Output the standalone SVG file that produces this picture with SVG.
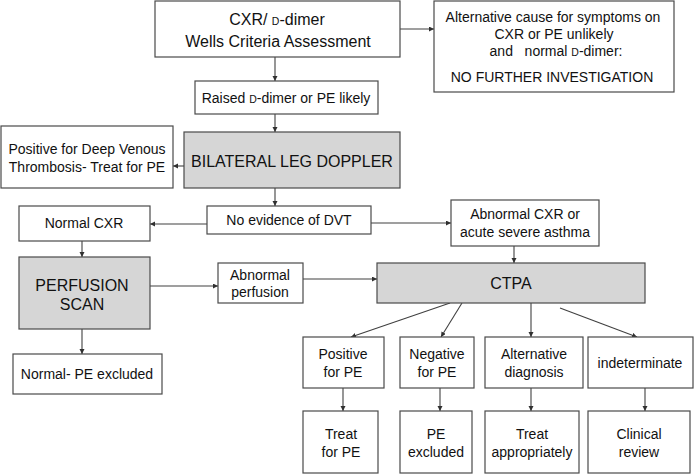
<svg xmlns="http://www.w3.org/2000/svg" width="697" height="475" viewBox="0 0 697 475">
<defs>
<style>
.box{fill:#fff;stroke:#4a4a4a;stroke-width:1.2}
.gray{fill:#d6d6d6;stroke:#4a4a4a;stroke-width:1.2}
text{font-family:"Liberation Sans",Arial,sans-serif;font-size:14px;fill:#111;text-anchor:middle}
.big{font-size:16px}
.sc{font-size:10.5px}
.conn line{stroke:#404040;stroke-width:1.1;marker-end:url(#ah)}
</style>
<marker id="ah" markerUnits="userSpaceOnUse" markerWidth="6" markerHeight="6" refX="5" refY="2.5" orient="auto">
<path d="M0,0 L5,2.5 L0,5 z" fill="#303030"/>
</marker>
</defs>
<rect width="697" height="475" fill="#fff"/>
<g class="conn">
<line x1="275" y1="57" x2="275" y2="81"/>
<line x1="275" y1="114" x2="275" y2="132"/>
<line x1="400" y1="29" x2="434" y2="29"/>
<line x1="184" y1="166" x2="173" y2="166"/>
<line x1="275" y1="188" x2="275" y2="206"/>
<line x1="207" y1="224" x2="150" y2="224"/>
<line x1="371" y1="223" x2="451" y2="223"/>
<line x1="82" y1="241" x2="82" y2="257"/>
<line x1="150" y1="286" x2="218" y2="286"/>
<line x1="303" y1="279" x2="377" y2="279"/>
<line x1="514" y1="246" x2="514" y2="263"/>
<line x1="82" y1="329" x2="82" y2="354"/>
<line x1="450" y1="303" x2="351" y2="337"/>
<line x1="462" y1="303" x2="441" y2="337"/>
<line x1="531" y1="303" x2="531" y2="337"/>
<line x1="560" y1="308" x2="637" y2="337"/>
<line x1="343" y1="388" x2="343" y2="411"/>
<line x1="440" y1="388" x2="440" y2="411"/>
<line x1="531" y1="388" x2="531" y2="411"/>
<line x1="645" y1="388" x2="645" y2="411"/>
</g>
<g id="n-start">
<rect class="box" x="155" y="1" width="245" height="56"/>
<text class="big" x="277" y="25">CXR/ <tspan class="sc" font-size="12px">D</tspan>-dimer</text>
<text class="big" x="278" y="47">Wells Criteria Assessment</text>
</g>
<g id="n-nofurther">
<rect class="box" x="434" y="1" width="240" height="91"/>
<text x="553" y="22">Alternative cause for symptoms on</text>
<text x="554" y="39">CXR or PE unlikely</text>
<text x="556" y="56" xml:space="preserve">and   normal <tspan class="sc">D</tspan>-dimer:</text>
<text x="552" y="82">NO FURTHER INVESTIGATION</text>
</g>
<g id="n-raised">
<rect class="box" x="195" y="81" width="183" height="33"/>
<text x="286" y="103">Raised <tspan class="sc">D</tspan>-dimer or PE likely</text>
</g>
<g id="n-doppler">
<rect class="gray" x="184" y="132" width="216" height="56"/>
<text class="big" x="292" y="167">BILATERAL LEG DOPPLER</text>
</g>
<g id="n-dvt">
<rect class="box" x="1" y="126" width="172" height="62"/>
<text x="87" y="154">Positive for Deep Venous</text>
<text x="87" y="172">Thrombosis- Treat for PE</text>
</g>
<g id="n-nodvt">
<rect class="box" x="207" y="206" width="164" height="28"/>
<text x="289" y="225">No evidence of DVT</text>
</g>
<g id="n-normalcxr">
<rect class="box" x="19" y="206" width="131" height="35"/>
<text x="84" y="228">Normal CXR</text>
</g>
<g id="n-abncxr">
<rect class="box" x="451" y="200" width="148" height="46"/>
<text x="525" y="219">Abnormal CXR or</text>
<text x="525" y="237">acute severe asthma</text>
</g>
<g id="n-perfusion">
<rect class="gray" x="19" y="257" width="131" height="72"/>
<text class="big" x="82" y="291">PERFUSION</text>
<text class="big" x="82" y="310">SCAN</text>
</g>
<g id="n-abnperf">
<rect class="box" x="218" y="263" width="85" height="40"/>
<text x="260" y="280">Abnormal</text>
<text x="260" y="297">perfusion</text>
</g>
<g id="n-ctpa">
<rect class="gray" x="377" y="263" width="268" height="40"/>
<text class="big" x="511" y="289">CTPA</text>
</g>
<g id="n-normalpe">
<rect class="box" x="13" y="354" width="149" height="40"/>
<text x="87" y="379">Normal- PE excluded</text>
</g>
<g id="n-pos">
<rect class="box" x="303" y="337" width="81" height="51"/>
<text x="343" y="359">Positive</text>
<text x="343" y="377">for PE</text>
</g>
<g id="n-neg">
<rect class="box" x="400" y="337" width="74" height="51"/>
<text x="437" y="359">Negative</text>
<text x="437" y="377">for PE</text>
</g>
<g id="n-alt">
<rect class="box" x="485" y="337" width="98" height="51"/>
<text x="534" y="359">Alternative</text>
<text x="534" y="377">diagnosis</text>
</g>
<g id="n-indet">
<rect class="box" x="588" y="337" width="105" height="51"/>
<text x="640" y="368">indeterminate</text>
</g>
<g id="n-treat">
<rect class="box" x="303" y="411" width="75" height="62"/>
<text x="341" y="439">Treat</text>
<text x="341" y="457">for PE</text>
</g>
<g id="n-excl">
<rect class="box" x="400" y="411" width="72" height="62"/>
<text x="436" y="439">PE</text>
<text x="436" y="457">excluded</text>
</g>
<g id="n-treatapp">
<rect class="box" x="485" y="411" width="94" height="62"/>
<text x="532" y="439">Treat</text>
<text x="532" y="457">appropriately</text>
</g>
<g id="n-review">
<rect class="box" x="588" y="411" width="102" height="62"/>
<text x="639" y="439">Clinical</text>
<text x="639" y="457">review</text>
</g>
</svg>
